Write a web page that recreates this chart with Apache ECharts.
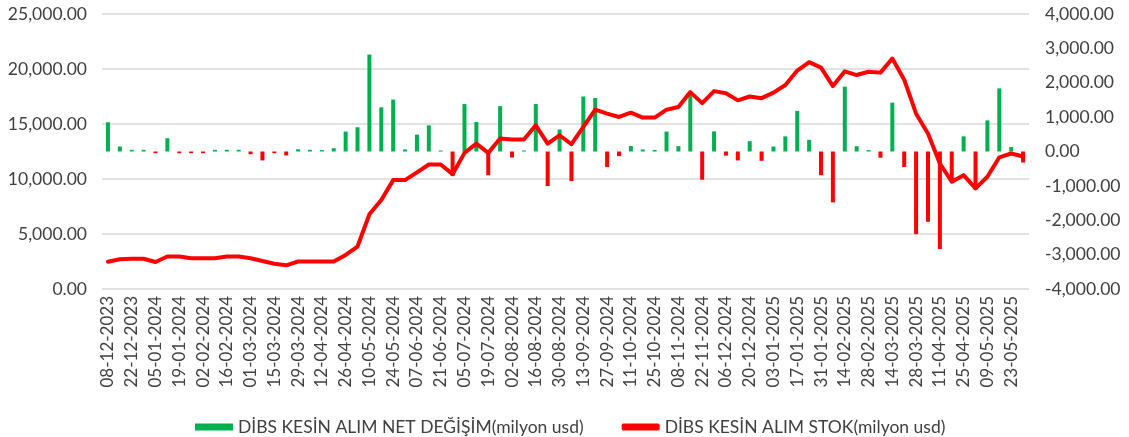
<!DOCTYPE html>
<html>
<head>
<meta charset="utf-8">
<script src="https://cdn.jsdelivr.net/npm/echarts@6/dist/echarts.min.js"></script>
<style>
html,body{margin:0;padding:0;background:#fff;}
#c{width:1129px;height:437px;}
</style>
</head>
<body>
<div id="c"></div>
<script>
// Weekly dates (Friday), 08-12-2023 .. 30-05-2025
const categories = [
"08-12-2023","15-12-2023","22-12-2023","29-12-2023","05-01-2024","12-01-2024","19-01-2024","26-01-2024",
"02-02-2024","09-02-2024","16-02-2024","23-02-2024","01-03-2024","08-03-2024","15-03-2024","22-03-2024",
"29-03-2024","05-04-2024","12-04-2024","19-04-2024","26-04-2024","03-05-2024","10-05-2024","17-05-2024",
"24-05-2024","31-05-2024","07-06-2024","14-06-2024","21-06-2024","28-06-2024","05-07-2024","12-07-2024",
"19-07-2024","26-07-2024","02-08-2024","09-08-2024","16-08-2024","23-08-2024","30-08-2024","06-09-2024",
"13-09-2024","20-09-2024","27-09-2024","04-10-2024","11-10-2024","18-10-2024","25-10-2024","01-11-2024",
"08-11-2024","15-11-2024","22-11-2024","29-11-2024","06-12-2024","13-12-2024","20-12-2024","27-12-2024",
"03-01-2025","10-01-2025","17-01-2025","24-01-2025","31-01-2025","07-02-2025","14-02-2025","21-02-2025",
"28-02-2025","07-03-2025","14-03-2025","21-03-2025","28-03-2025","04-04-2025","11-04-2025","18-04-2025",
"25-04-2025","02-05-2025","09-05-2025","16-05-2025","23-05-2025","30-05-2025"
];

// DİBS KESİN ALIM NET DEĞİŞİM (right axis)
const netChange = [
850,145,50,50,-50,385,-50,-50,
-50,50,50,50,-80,-260,-50,-115,
65,50,40,95,580,705,2820,1285,
1510,60,490,760,30,-710,1380,860,
-690,1320,-175,30,1380,-1005,640,-860,
1600,1555,-450,-135,160,60,45,580,
155,1700,-820,585,-120,-260,300,-270,
145,440,1180,340,-690,-1480,1885,155,
40,-180,1420,-450,-2405,-2045,-2840,-810,
440,-1115,905,1835,130,-320
];

// DİBS KESİN ALIM STOK (left axis)
const stock = [
2480,2700,2750,2750,2450,2950,2950,2800,
2800,2800,2950,2950,2800,2550,2300,2150,
2500,2500,2500,2500,3100,3860,6800,8090,
9900,9900,10600,11320,11320,10440,12375,13220,
12375,13680,13590,13590,14880,13220,13975,13160,
14730,16300,15940,15640,16030,15580,15580,16300,
16540,17900,16900,17990,17800,17150,17500,17350,
17850,18550,19860,20620,20130,18450,19790,19450,
19750,19670,20950,19030,15940,14130,11410,9750,
10350,9150,10200,11970,12320,12050
];

const seriesNames = ["DİBS KESİN ALIM NET DEĞİŞİM(milyon usd)", "DİBS KESİN ALIM STOK(milyon usd)"];
const GREEN = "#00B050", RED = "#FF0000";
const FONT = "Lato";
const fmt = v => v.toLocaleString("en-US", {minimumFractionDigits: 2, maximumFractionDigits: 2});

const chart = echarts.init(document.getElementById("c"), null, {renderer: "canvas"});
chart.setOption({
  backgroundColor: "#ffffff",
  animation: false,
  textStyle: {fontFamily: FONT},
  grid: {left: 102, right: 100, top: 14, bottom: 148, containLabel: false},
  legend: {
    left: 190, top: 413,
    itemWidth: 38, itemHeight: 7, itemGap: 38,
    textStyle: {fontFamily: FONT, fontSize: 17.5, color: "#404040"},
    data: [{name: seriesNames[0], icon: "rect"}, {name: seriesNames[1], icon: "roundRect"}]
  },
  xAxis: {
    type: "category",
    data: categories,
    position: "bottom",
    axisLine: {show: false, onZero: false},
    axisTick: {show: false},
    axisLabel: {interval: 1, rotate: 90, margin: 7, fontFamily: FONT, fontSize: 17, color: "#404040"},
    splitLine: {show: false}
  },
  yAxis: [
    {
      type: "value", min: 0, max: 25000, interval: 5000, position: "left",
      axisLine: {show: false}, axisTick: {show: false},
      axisLabel: {formatter: fmt, fontFamily: FONT, fontSize: 17.5, color: "#404040", margin: 15},
      splitLine: {show: true, lineStyle: {color: "#D9D9D9", width: 1.5}}
    },
    {
      type: "value", min: -4000, max: 4000, interval: 1000, position: "right",
      axisLine: {show: false}, axisTick: {show: false},
      axisLabel: {formatter: fmt, fontFamily: FONT, fontSize: 17.5, color: "#404040", margin: 16},
      splitLine: {show: false}
    }
  ],
  series: [
    {
      name: seriesNames[0],
      type: "bar",
      yAxisIndex: 1,
      barWidth: 4,
      itemStyle: {color: GREEN},
      data: netChange.map(v => ({value: v, itemStyle: {color: v < 0 ? RED : GREEN}}))
    },
    {
      name: seriesNames[1],
      type: "line",
      yAxisIndex: 0,
      data: stock,
      showSymbol: false,
      symbol: "none",
      lineStyle: {color: RED, width: 4, join: "round", cap: "round"},
      itemStyle: {color: RED},
      z: 3
    }
  ]
});
</script>
</body>
</html>
